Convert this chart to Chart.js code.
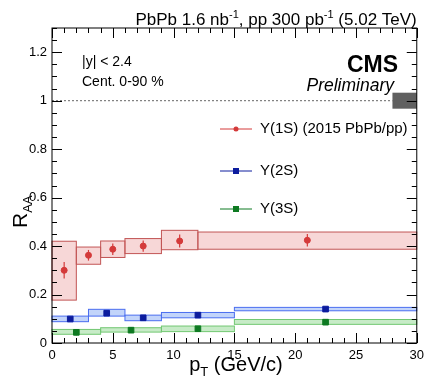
<!DOCTYPE html>
<html>
<head>
<meta charset="utf-8">
<title>Upsilon RAA vs pT</title>
<script src="https://cdn.jsdelivr.net/npm/chart.js@4.4.1/dist/chart.umd.min.js"></script>
<style>
  html, body { margin: 0; padding: 0; background: #fff; }
  #wrap { width: 429px; height: 383px; }
</style>
</head>
<body>
<div id="wrap"><canvas id="chart"></canvas></div>
<script>
// Y(1S)
const pt1S = [1, 3, 5, 7.5, 10.5, 21];
const raa1S = [0.30, 0.362, 0.387, 0.40, 0.421, 0.424];
const err1S = [0.034, 0.022, 0.024, 0.023, 0.027, 0.026];
const bins1S = [0, 2, 4, 6, 9, 12, 30];
const sysLo1S = [0.177, 0.325, 0.353, 0.369, 0.385, 0.387];
const sysHi1S = [0.420, 0.396, 0.421, 0.431, 0.465, 0.458];

// Y(2S)
const pt2S = [1.5, 4.5, 7.5, 12, 22.5];
const raa2S = [0.099, 0.123, 0.104, 0.115, 0.140];
const err2S = [0.007, 0.007, 0.007, 0.007, 0.006];
const bins2S = [0, 3, 6, 9, 15, 30];
const sysLo2S = [0.088, 0.111, 0.092, 0.104, 0.133];
const sysHi2S = [0.111, 0.139, 0.115, 0.126, 0.147];

// Y(3S)
const pt3S = [2, 6.5, 12, 22.5];
const raa3S = [0.044, 0.053, 0.059, 0.086];
const err3S = [0.012, 0.012, 0.010, 0.010];
const bins3S = [0, 4, 9, 15, 30];
const sysLo3S = [0.036, 0.045, 0.047, 0.077];
const sysHi3S = [0.056, 0.063, 0.070, 0.097];

// global uncertainty box around unity
const globalBin = [28, 30];
const globalUnc = [0.967, 1.033];

const xTicks = [0, 5, 10, 15, 20, 25, 30];
const yTicks = [0, 0.2, 0.4, 0.6, 0.8, 1, 1.2];

const FONT = "'Liberation Sans', Arial, sans-serif";

const series = [
  { label: 'Υ(1S) (2015 PbPb/pp)', x: pt1S, y: raa1S, err: err1S, bins: bins1S, lo: sysLo1S, hi: sysHi1S,
    color: '#d43a3a', fill: 'rgba(232,140,140,0.35)', edge: '#c25555', style: 'circle', r: 3 },
  { label: 'Υ(2S)', x: pt2S, y: raa2S, err: err2S, bins: bins2S, lo: sysLo2S, hi: sysHi2S,
    color: '#0c1c9e', fill: 'rgba(120,160,245,0.45)', edge: '#4b6ef0', style: 'rect', r: 4 },
  { label: 'Υ(3S)', x: pt3S, y: raa3S, err: err3S, bins: bins3S, lo: sysLo3S, hi: sysHi3S,
    color: '#0e7a22', fill: 'rgba(130,210,130,0.45)', edge: '#72c872', style: 'rect', r: 4 }
];

const cmsPlugin = {
  id: 'cms',
  beforeDatasetsDraw(chart) {
    const { ctx, scales: { x, y }, chartArea: a } = chart;
    ctx.save();
    // dotted line at unity
    ctx.strokeStyle = '#666';
    ctx.lineWidth = 1;
    ctx.setLineDash([2, 2]);
    ctx.beginPath();
    ctx.moveTo(a.left, y.getPixelForValue(1));
    ctx.lineTo(x.getPixelForValue(globalBin[0]), y.getPixelForValue(1));
    ctx.stroke();
    ctx.setLineDash([]);
    // global box
    ctx.fillStyle = '#606060';
    ctx.fillRect(x.getPixelForValue(globalBin[0]), y.getPixelForValue(globalUnc[1]),
      x.getPixelForValue(globalBin[1]) - x.getPixelForValue(globalBin[0]),
      y.getPixelForValue(globalUnc[0]) - y.getPixelForValue(globalUnc[1]));
    // systematic boxes
    series.forEach(s => {
      for (let i = 0; i < s.lo.length; i++) {
        const x0 = x.getPixelForValue(s.bins[i]), x1 = x.getPixelForValue(s.bins[i + 1]);
        const y0 = y.getPixelForValue(s.hi[i]), y1 = y.getPixelForValue(s.lo[i]);
        ctx.fillStyle = s.fill;
        ctx.fillRect(x0, y0, x1 - x0, y1 - y0);
        ctx.strokeStyle = s.edge;
        ctx.lineWidth = 1;
        ctx.strokeRect(x0, y0, x1 - x0, y1 - y0);
      }
      // stat error bars
      ctx.strokeStyle = s.color;
      ctx.lineWidth = 1.2;
      for (let i = 0; i < s.x.length; i++) {
        const px = x.getPixelForValue(s.x[i]);
        ctx.beginPath();
        ctx.moveTo(px, y.getPixelForValue(s.y[i] - s.err[i]));
        ctx.lineTo(px, y.getPixelForValue(s.y[i] + s.err[i]));
        ctx.stroke();
      }
    });
    ctx.restore();
  },
  afterDraw(chart) {
    const { ctx, scales: { x, y }, chartArea: a } = chart;
    ctx.save();
    // frame
    ctx.strokeStyle = '#000';
    ctx.lineWidth = 1;
    ctx.strokeRect(a.left, a.top, a.right - a.left, a.bottom - a.top);
    // ticks on all sides, inside
    ctx.beginPath();
    for (let v = 0; v <= 30; v += 1) {
      const px = Math.round(x.getPixelForValue(v)) + 0.5;
      const len = v % 5 === 0 ? 10 : 5;
      ctx.moveTo(px, a.bottom); ctx.lineTo(px, a.bottom - len);
      ctx.moveTo(px, a.top); ctx.lineTo(px, a.top + len);
    }
    for (let k = 0; k <= 26; k++) {
      const v = k * 0.05;
      const py = Math.round(y.getPixelForValue(v)) + 0.5;
      const len = k % 4 === 0 ? 10 : 5;
      ctx.moveTo(a.left, py); ctx.lineTo(a.left + len, py);
      ctx.moveTo(a.right, py); ctx.lineTo(a.right - len, py);
    }
    ctx.stroke();

    ctx.fillStyle = '#000';
    // header
    ctx.textBaseline = 'alphabetic';
    ctx.textAlign = 'left';
    const parts = [['PbPb 1.6 nb', 17, 0], ['-1', 11, -7], [', pp 300 pb', 17, 0], ['-1', 11, -7], [' (5.02 TeV)', 17, 0]];
    let w = 0;
    parts.forEach(p => { ctx.font = p[1] + 'px ' + FONT; w += ctx.measureText(p[0]).width; });
    let tx = a.right - w;
    parts.forEach(p => {
      ctx.font = p[1] + 'px ' + FONT;
      ctx.fillText(p[0], tx, 25 + p[2]);
      tx += ctx.measureText(p[0]).width;
    });

    // cuts
    ctx.font = '14px ' + FONT;
    ctx.textBaseline = 'middle';
    ctx.fillText('|y| < 2.4', 82, 62);
    ctx.fillText('Cent. 0-90 %', 82, 82);

    // CMS label
    ctx.textAlign = 'right';
    ctx.font = 'bold 23px ' + FONT;
    ctx.fillText('CMS', 398, 66);
    ctx.font = 'italic 17.5px ' + FONT;
    ctx.fillText('Preliminary', 394, 86);

    // legend
    const legY = [129, 171, 209];
    ctx.textAlign = 'left';
    series.forEach((s, i) => {
      ctx.strokeStyle = s.color;
      ctx.lineWidth = 1;
      ctx.beginPath();
      ctx.moveTo(220, legY[i]); ctx.lineTo(252, legY[i]);
      ctx.stroke();
      ctx.fillStyle = s.color;
      if (s.style === 'circle') {
        ctx.beginPath(); ctx.arc(236, legY[i], 2.5, 0, Math.PI * 2); ctx.fill();
      } else {
        ctx.fillRect(233, legY[i] - 3, 6, 6);
      }
      ctx.fillStyle = '#000';
      ctx.font = '15px ' + FONT;
      ctx.fillText(s.label, 260, legY[i]);
    });

    // axis titles
    ctx.textBaseline = 'alphabetic';
    ctx.textAlign = 'left';
    const xt1 = 'p', xt2 = ' (GeV/c)';
    ctx.font = '20px ' + FONT;
    const w1 = ctx.measureText(xt1).width;
    ctx.font = '13px ' + FONT;
    const wT = ctx.measureText('T').width;
    ctx.font = '20px ' + FONT;
    const w2 = ctx.measureText(xt2).width;
    let sx = 236 - (w1 + wT + w2) / 2;
    ctx.fillText(xt1, sx, 371);
    ctx.font = '13px ' + FONT;
    ctx.fillText('T', sx + w1, 376);
    ctx.font = '20px ' + FONT;
    ctx.fillText(xt2, sx + w1 + wT, 371);

    ctx.translate(27, 228);
    ctx.rotate(-Math.PI / 2);
    ctx.font = '21px ' + FONT;
    ctx.fillText('R', 0, 0);
    const wR = ctx.measureText('R').width;
    ctx.font = '13px ' + FONT;
    ctx.fillText('AA', wR, 5);
    ctx.restore();
  }
};

new Chart(document.getElementById('chart'), {
  type: 'scatter',
  data: {
    datasets: series.map(s => ({
      label: s.label,
      data: s.x.map((v, i) => ({ x: v, y: s.y[i] })),
      backgroundColor: s.color,
      borderColor: s.color,
      pointStyle: s.style,
      pointRadius: s.r,
      pointHoverRadius: s.r
    }))
  },
  options: {
    responsive: true,
    maintainAspectRatio: false,
    animation: false,
    layout: { padding: { top: 28, right: 11, left: 0, bottom: 0 } },
    plugins: { legend: { display: false }, tooltip: { enabled: false } },
    scales: {
      x: {
        type: 'linear', min: 0, max: 30,
        afterFit: sc => { sc.height = 40; },
        afterBuildTicks: sc => { sc.ticks = xTicks.map(v => ({ value: v })); },
        grid: { display: false, drawTicks: false },
        border: { display: false },
        ticks: { color: '#000', padding: 5, font: { family: FONT, size: 13 } }
      },
      y: {
        type: 'linear', min: 0, max: 1.3,
        afterFit: sc => { sc.width = 52; },
        afterBuildTicks: sc => { sc.ticks = yTicks.map(v => ({ value: v })); },
        grid: { display: false, drawTicks: false },
        border: { display: false },
        ticks: { color: '#000', padding: 5, font: { family: FONT, size: 13 },
          callback: v => String(+v.toFixed(1)) }
      }
    }
  },
  plugins: [cmsPlugin]
});
</script>
</body>
</html>
